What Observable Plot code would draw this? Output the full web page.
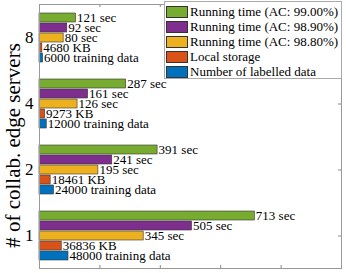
<!DOCTYPE html>
<html>
<head>
<meta charset="utf-8">
<script src="https://cdn.jsdelivr.net/npm/d3@7"></script>
<script src="https://cdn.jsdelivr.net/npm/@observablehq/plot@0.6"></script>
<style>
  body { margin: 0; background: #fff; }
  #wrap { position: relative; width: 346px; height: 273px; font-family: "Liberation Serif", serif; }
  #wrap svg text { font-family: "Liberation Serif", serif !important; }
  #legend { position: absolute; left: 164px; top: 1px; width: 178px; height: 78px; border: 1px solid #aaa; background: #fff; box-sizing: border-box; }
  .item { position: absolute; left: 1px; height: 13px; display: flex; align-items: center; font-size: 13px; color: #000; white-space: nowrap; }
  .sw { width: 22px; height: 12px; border: 0.6px solid #333; box-sizing: border-box; margin-right: 2px; }
</style>
</head>
<body>
<div id="wrap"><div id="legend"></div></div>
<script>
const groups = ["8", "4", "2", "1"];
const series = ["Running time (AC: 99.00%)", "Running time (AC: 98.90%)", "Running time (AC: 98.80%)", "Local storage", "Number of labelled data"];
const colors = ["#77AC30", "#7E2F8E", "#EDB120", "#D95319", "#0072BD"];
const run990 = [121, 287, 391, 713];
const run989 = [92, 161, 241, 505];
const run988 = [80, 126, 195, 345];
const storageKB = [4680, 9273, 18461, 36836];
const trainData = [6000, 12000, 24000, 48000];
const xTicks = [200, 400, 600, 800];
const shrink = 500; // storage and data counts drawn at 1/500 on the time axis
const serif = '"Liberation Serif", serif';

const rows = [];
groups.forEach((g, i) => {
  rows.push({group: g, series: series[0], value: run990[i], label: run990[i] + " sec"});
  rows.push({group: g, series: series[1], value: run989[i], label: run989[i] + " sec"});
  rows.push({group: g, series: series[2], value: run988[i], label: run988[i] + " sec"});
  rows.push({group: g, series: series[3], value: storageKB[i] / shrink, label: storageKB[i] + " KB"});
  rows.push({group: g, series: series[4], value: trainData[i] / shrink, label: trainData[i] + " training data"});
});
const bottomTicks = xTicks.map(v => ({v, g: groups[groups.length - 1]}));
const topTicks = xTicks.map(v => ({v, g: groups[0]}));

const plot = Plot.plot({
  width: 346,
  height: 273,
  marginLeft: 39,
  marginRight: 5,
  marginTop: 4,
  marginBottom: 5,
  style: {fontFamily: serif, fontSize: "13px", background: "transparent"},
  x: {domain: [0, 1000], axis: null},
  y: {domain: series, paddingInner: 0.15, paddingOuter: 0.78, axis: null},
  fy: {domain: groups, padding: 0, label: null},
  color: {domain: series, range: colors},
  marks: [
    Plot.barX(rows, {x: "value", y: "series", fy: "group", fill: "series", stroke: "#333", strokeWidth: 0.6}),
    Plot.text(rows, {x: "value", y: "series", fy: "group", text: "label", textAnchor: "start", dx: 1, fontSize: 13, fontFamily: serif, fill: "#000"}),
    Plot.axisFy({anchor: "left", tickSize: 0, tickPadding: 6, fontSize: 17, fontFamily: serif, label: null}),
    Plot.ruleY([series[2]], {stroke: "#888", insetLeft: 299}),
    Plot.ruleX(bottomTicks, {x: "v", fy: "g", stroke: "#888", insetTop: 63}),
    Plot.ruleX(topTicks, {x: "v", fy: "g", stroke: "#888", insetBottom: 63}),
    Plot.frame({facet: "super", stroke: "#999"}),
    Plot.text(["# of collab. edge servers"], {facet: "super", frameAnchor: "left", textAnchor: "middle", rotate: -90, dx: -26, dy: 9, fontSize: 21, fontFamily: serif, text: d => d, fill: "#000"})
  ]
});
d3.select(plot).selectAll("text").style("font-family", serif);
document.getElementById("wrap").prepend(plot);

const legend = document.getElementById("legend");
series.forEach((s, i) => {
  const it = document.createElement("div");
  it.className = "item";
  it.style.top = (3 + i * 15) + "px";
  const sw = document.createElement("div");
  sw.className = "sw";
  sw.style.background = colors[i];
  const tx = document.createElement("span");
  tx.textContent = s;
  it.appendChild(sw);
  it.appendChild(tx);
  legend.appendChild(it);
});
</script>
</body>
</html>
